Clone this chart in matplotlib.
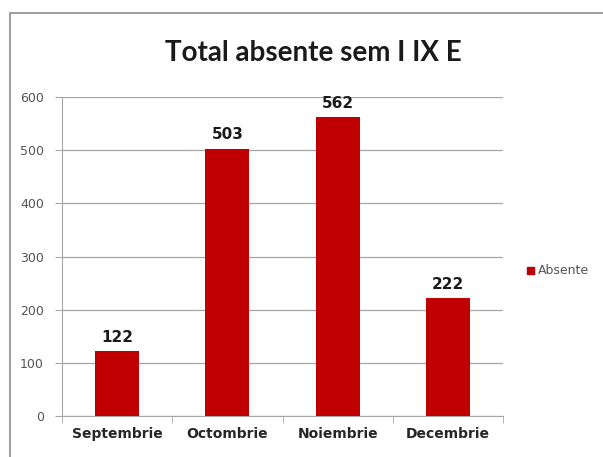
import matplotlib.pyplot as plt
import numpy as np
from matplotlib.patches import Rectangle

months = ["Septembrie", "Octombrie", "Noiembrie", "Decembrie"]
absente = [122, 503, 562, 222]
yticks = [0, 100, 200, 300, 400, 500, 600]

fig = plt.figure(figsize=(6.03, 4.57), dpi=100)
fig.patch.set_facecolor("white")

# chart frame (only left/top edges visible in the crop)
fig.add_artist(Rectangle((10 / 603, -0.1), 1.2, (457 - 13) / 457 + 0.1,
                         transform=fig.transFigure, fill=False,
                         edgecolor="#8c8c8c", linewidth=1.2))

ax = fig.add_axes([62 / 603, 41 / 457, 441 / 603, 319 / 457])
x = np.arange(len(months))
bars = ax.bar(x, absente, width=0.4, color="#c00000", zorder=3)

for xi, v in zip(x, absente):
    ax.text(xi, v + 12, str(v), ha="center", va="bottom",
            fontsize=11, fontweight="bold", color="#1a1a1a")

ax.set_xlim(-0.5, len(months) - 0.5)
ax.set_ylim(0, 600)
ax.set_yticks(yticks)
ax.set_yticklabels([str(t) for t in yticks], color="#555555", fontsize=9)
ax.yaxis.grid(True, color="#a6a6a6", linewidth=0.9, zorder=0)

ax.set_xticks(x)
ax.set_xticklabels(months, fontsize=10, fontweight="bold", color="#262626")
ax.set_xticks(np.arange(-0.5, len(months)), minor=True)
ax.tick_params(axis="x", which="major", length=0, pad=8)
ax.tick_params(axis="x", which="minor", length=5, color="#a6a6a6")
ax.tick_params(axis="y", length=5, color="#a6a6a6", pad=8)

for s in ["top", "right"]:
    ax.spines[s].set_visible(False)
ax.spines["left"].set_color("#a6a6a6")
ax.spines["bottom"].set_color("#a6a6a6")

fig.text(0.52, 0.885, "Total absente sem I IX E", ha="center", va="center",
         fontsize=20, fontweight="bold", family="Lato", color="#1a1a1a")

fig.add_artist(Rectangle((527 / 603, (457 - 274) / 457), 7 / 603, 7 / 457,
                         transform=fig.transFigure, color="#c00000"))
fig.text(538 / 603, (457 - 270) / 457, "Absente", ha="left", va="center",
         fontsize=9, color="#555555")

fig.savefig("out.png", dpi=100)
